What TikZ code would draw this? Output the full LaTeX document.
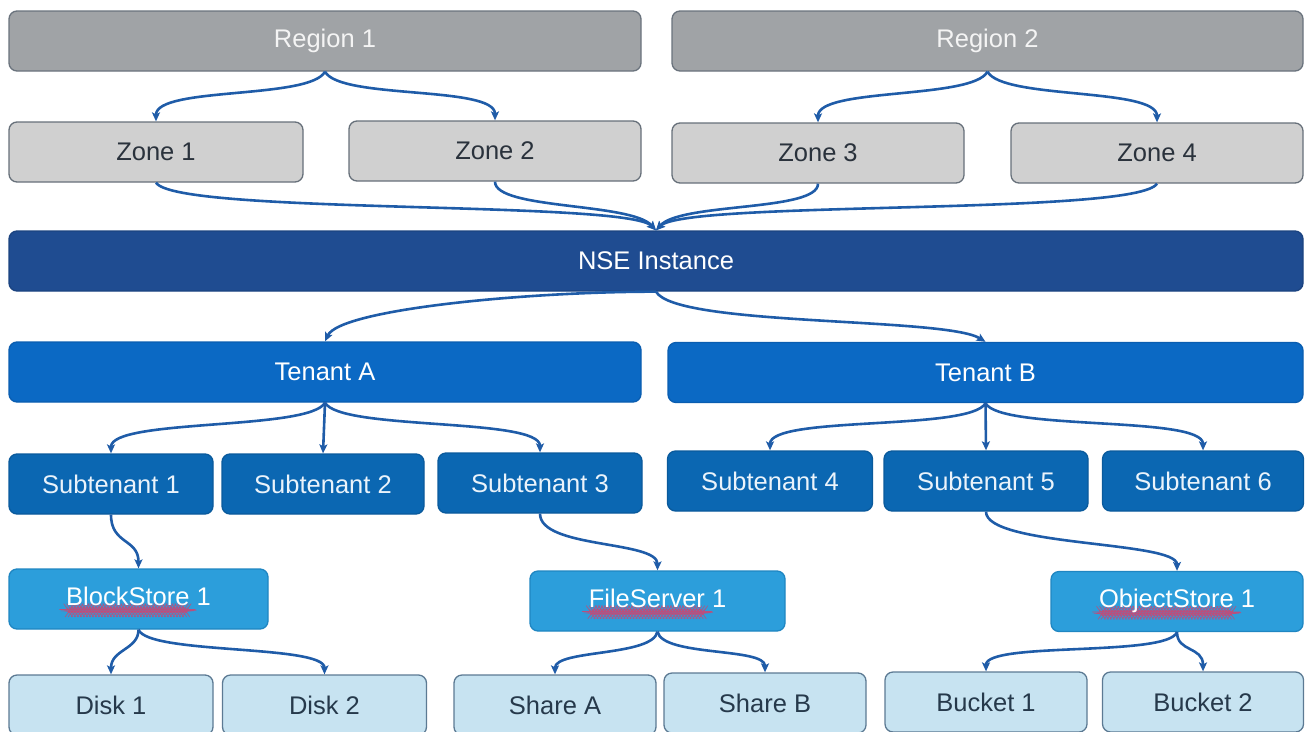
\documentclass[tikz,border=0pt]{standalone}
\usepackage{fontspec}
\setmainfont{Liberation Sans}
\usetikzlibrary{arrows.meta,calc,decorations.pathmorphing}
\definecolor{regfill}{HTML}{A0A3A6}
\definecolor{regdraw}{HTML}{6A737D}
\definecolor{regtext}{HTML}{F4F4F4}
\definecolor{zonefill}{HTML}{D0D0D0}
\definecolor{zonedraw}{HTML}{67707A}
\definecolor{zonetext}{HTML}{2A323C}
\definecolor{nsefill}{HTML}{1F4C91}
\definecolor{nsedraw}{HTML}{1B4380}
\definecolor{tenfill}{HTML}{0B69C4}
\definecolor{tendraw}{HTML}{0A5DB0}
\definecolor{subfill}{HTML}{0B67B2}
\definecolor{subdraw}{HTML}{0A5A9C}
\definecolor{subtext}{HTML}{EAF3FB}
\definecolor{stofill}{HTML}{2C9EDB}
\definecolor{stodraw}{HTML}{1F86C2}
\definecolor{leaffill}{HTML}{C7E3F1}
\definecolor{leafdraw}{HTML}{5C7A93}
\definecolor{leaftext}{HTML}{26394B}
\definecolor{arrcol}{HTML}{1F5CA8}
\definecolor{wavycol}{HTML}{B8507E}
\newsavebox\wavybox
\newlength\wavylen
\newcommand\wavy[1]{\leavevmode\sbox\wavybox{#1}\setlength\wavylen{\wd\wavybox}%
  \rlap{\raisebox{-6pt}{\tikz\draw[wavycol,line width=0.6pt,decorate,decoration={snake,amplitude=0.7pt,segment length=3pt}] (0pt,0pt) -- (\wavylen,0pt);}}\usebox\wavybox}
\newcommand\link[4]{\draw[arr] (#1.south) .. controls ($(#1.south)+(#3)$) and ($(#2.north)+(#4)$) .. (#2.north);}
\begin{document}
\begin{tikzpicture}[x=1pt,y=1pt,
  box/.style={rounded corners=8pt,line width=1.3pt,inner sep=0pt,font=\fontsize{25.5}{30}\selectfont,minimum height=60pt},
  regionbox/.style={box,fill=regfill,draw=regdraw,text=regtext},
  zonebox/.style={box,fill=zonefill,draw=zonedraw,text=zonetext},
  nsebox/.style={box,fill=nsefill,draw=nsedraw,text=white},
  tenbox/.style={box,fill=tenfill,draw=tendraw,text=white},
  subbox/.style={box,fill=subfill,draw=subdraw,text=subtext},
  stobox/.style={box,fill=stofill,draw=stodraw,text=white},
  leafbox/.style={box,fill=leaffill,draw=leafdraw,text=leaftext},
  arr/.style={draw=arrcol,line width=2.6pt,-{Stealth[length=9pt,width=8pt,inset=2pt]}}]
\useasboundingbox (0,0) rectangle (1305,-731);
% row 1
\node[regionbox,minimum width=632pt] (r1) at (325,-41) {Region 1};
\node[regionbox,minimum width=631pt] (r2) at (987.5,-41) {Region 2};
% zones
\node[zonebox,minimum width=294pt] (z1) at (156,-152) {Zone 1};
\node[zonebox,minimum width=292pt] (z2) at (495,-151) {Zone 2};
\node[zonebox,minimum width=292pt] (z3) at (818,-153) {Zone 3};
\node[zonebox,minimum width=292pt] (z4) at (1157,-153) {Zone 4};
% NSE
\node[nsebox,minimum width=1294pt] (nse) at (656,-261) {NSE Instance};
% tenants
\node[tenbox,minimum width=632pt] (ta) at (325,-372) {Tenant A};
\node[tenbox,minimum width=635pt] (tb) at (985.5,-372.5) {Tenant B};
% subtenants
\node[subbox,minimum width=204pt] (s1) at (111,-484) {Subtenant 1};
\node[subbox,minimum width=202pt] (s2) at (323,-484) {Subtenant 2};
\node[subbox,minimum width=204pt] (s3) at (540,-483) {Subtenant 3};
\node[subbox,minimum width=205pt] (s4) at (770,-481) {Subtenant 4};
\node[subbox,minimum width=204pt] (s5) at (986,-481) {Subtenant 5};
\node[subbox,minimum width=201pt] (s6) at (1203,-481) {Subtenant 6};
% stores
\node[stobox,minimum width=259pt] (bs) at (138.5,-599) {\wavy{BlockStore} 1};
\node[stobox,minimum width=255pt] (fs) at (657.5,-601) {\wavy{FileServer} 1};
\node[stobox,minimum width=252pt] (os) at (1177,-601.5) {\wavy{ObjectStore} 1};
% leaves
\node[leafbox,minimum width=204pt] (d1) at (111,-705) {Disk 1};
\node[leafbox,minimum width=204pt] (d2) at (324.5,-705) {Disk 2};
\node[leafbox,minimum width=202pt] (sa) at (555,-705) {Share A};
\node[leafbox,minimum width=202pt] (sb) at (765,-703) {Share B};
\node[leafbox,minimum width=202pt] (b1) at (986,-702) {Bucket 1};
\node[leafbox,minimum width=201pt] (b2) at (1203,-702) {Bucket 2};
% connectors
\link{r1}{z1}{-15,-28}{0,35}
\link{r1}{z2}{15,-28}{0,35}
\link{r2}{z3}{-15,-28}{0,35}
\link{r2}{z4}{15,-28}{0,35}
\link{z1}{nse}{20,-32}{-30,30}
\link{z2}{nse}{0,-28}{-25,28}
\link{z3}{nse}{0,-28}{25,28}
\link{z4}{nse}{-20,-32}{30,30}
\link{nse}{ta}{-130,0}{15,32}
\link{nse}{tb}{20,-35}{-40,25}
\link{ta}{s1}{-15,-28}{0,35}
\draw[arr] (ta.south) -- (s2.north);
\link{ta}{s3}{15,-28}{0,35}
\link{tb}{s4}{-15,-28}{0,35}
\draw[arr] (tb.south) -- (s5.north);
\link{tb}{s6}{15,-28}{0,35}
\link{s1}{bs}{0,-30}{0,30}
\link{s3}{fs}{0,-35}{0,30}
\link{s5}{os}{0,-35}{0,30}
\link{bs}{d1}{0,-20}{0,25}
\link{bs}{d2}{10,-25}{0,30}
\link{fs}{sa}{-5,-25}{0,25}
\link{fs}{sb}{5,-25}{0,25}
\link{os}{b1}{-10,-25}{0,30}
\link{os}{b2}{0,-20}{0,25}
\end{tikzpicture}
\end{document}
